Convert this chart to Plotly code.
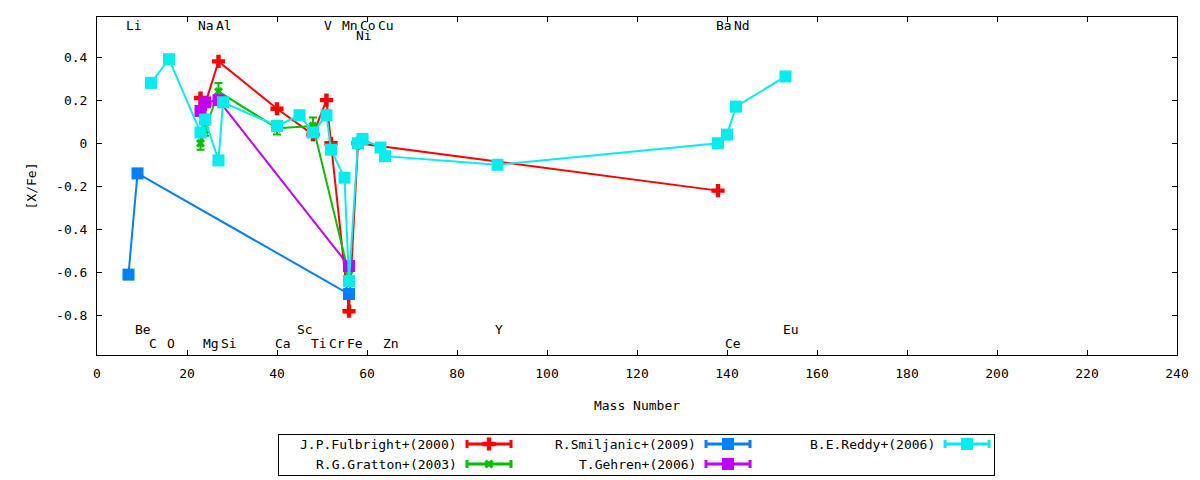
import plotly.graph_objects as go

# mass numbers of the labelled elements, by label row
top_el = ["Li", "Na", "Al", "V", "Mn", "Co", "Cu", "Ba", "Nd"]
top_mass = [7, 23, 27, 51, 55, 59, 63, 138, 142]
top2_el = ["Ni"]
top2_mass = [58]
bot1_el = ["Be", "Sc", "Y", "Eu"]
bot1_mass = [9, 45, 89, 153]
bot2_el = ["C", "O", "Mg", "Si", "Ca", "Ti", "Cr", "Fe", "Zn", "Ce"]
bot2_mass = [12, 16, 24, 28, 40, 48, 52, 56, 64, 140]

# [X/Fe] per study
fulbright_a = [23, 24, 27, 40, 48, 51, 52, 56, 58, 138]
fulbright_x = [0.21, 0.18, 0.38, 0.16, 0.04, 0.20, 0.00, -0.78, 0.00, -0.22]

gratton_a = [23, 24, 27, 40, 48, 56]
gratton_x = [0.00, 0.06, 0.24, 0.07, 0.08, -0.61]
gratton_err = [0.03, 0.025, 0.04, 0.03, 0.04, 0.02]

smiljanic_a = [7, 9, 56]
smiljanic_x = [-0.61, -0.14, -0.70]

gehren_a = [23, 24, 27, 56]
gehren_x = [0.15, 0.19, 0.20, -0.57]

reddy_a = [12, 16, 23, 24, 27, 28, 40, 45, 48, 51, 52, 55, 56, 58, 59, 63, 64,
           89, 138, 140, 142, 153]
reddy_x = [0.28, 0.39, 0.05, 0.11, -0.08, 0.19, 0.08, 0.13, 0.05, 0.13, -0.03,
           -0.16, -0.64, 0.00, 0.02, -0.02, -0.06, -0.10, 0.00, 0.04, 0.17, 0.31]

y_ticks = [0.4, 0.2, 0, -0.2, -0.4, -0.6, -0.8]
y_ticktext = ["0.4", "0.2", "0", "-0.2", "-0.4", "-0.6", "-0.8"]

FONT = "DejaVu Sans Mono"

series = [
    # name, x, y, err, color, symbol, size, legend col, legend row
    ("J.P.Fulbright+(2000)", fulbright_a, fulbright_x, None, "#ff0000", "cross", 11, 0, 0),
    ("R.G.Gratton+(2003)", gratton_a, gratton_x, gratton_err, "#00c000", "x", 8, 0, 1),
    ("R.Smiljanic+(2009)", smiljanic_a, smiljanic_x, None, "#0080ff", "square", 12, 1, 0),
    ("T.Gehren+(2006)", gehren_a, gehren_x, None, "#c000ff", "square", 12, 1, 1),
    ("B.E.Reddy+(2006)", reddy_a, reddy_x, None, "#00eeee", "square", 12, 2, 0),
]

fig = go.Figure()
for name, xs, ys, err, col, sym, sz, c, r in series:
    fig.add_trace(go.Scatter(
        x=xs, y=ys, name=name, mode="lines+markers", showlegend=False,
        line=dict(color=col, width=2),
        marker=dict(color=col, symbol=sym, size=sz, line=dict(width=0)),
        error_y=dict(type="data", array=err, color=col, thickness=2, width=4,
                     visible=err is not None),
    ))

# custom key box (gnuplot style: text then sample)
col_text_end = [180, 419, 658]
row_y = [31, 11]
for name, xs, ys, err, col, sym, sz, c, r in series:
    mid = col_text_end[c] + 30
    fig.add_trace(go.Scatter(
        x=[mid], y=[row_y[r]], xaxis="x2", yaxis="y2", mode="markers",
        showlegend=False, hoverinfo="skip",
        marker=dict(color=col, symbol=sym, size=sz, line=dict(width=0)),
        error_x=dict(type="constant", value=22, color=col, thickness=3, width=4),
    ))
    fig.add_annotation(x=col_text_end[c], y=row_y[r], xref="x2", yref="y2",
                       text=name, showarrow=False, xanchor="right",
                       font=dict(family=FONT, size=13, color="black"))

for els, masses, yy in [(top_el, top_mass, 0.548), (top2_el, top2_mass, 0.50),
                        (bot1_el, bot1_mass, -0.865), (bot2_el, bot2_mass, -0.93)]:
    for el, m in zip(els, masses):
        fig.add_annotation(x=m, y=yy, text=el, showarrow=False, xanchor="left",
                           xshift=-3.5, borderpad=0,
                           font=dict(family=FONT, size=13, color="black"))

axis_common = dict(showline=True, linecolor="black", linewidth=1, mirror="ticks",
                   ticks="inside", ticklen=5, tickcolor="black", showgrid=False,
                   zeroline=False, ticklabelstandoff=6,
                   tickfont=dict(family=FONT, size=13, color="black"))

fig.update_layout(
    width=1200, height=480,
    margin=dict(l=97, r=23, t=17, b=5),
    paper_bgcolor="white", plot_bgcolor="white",
    font=dict(family=FONT, size=13, color="black"),
    xaxis=dict(range=[0, 240], dtick=20, anchor="y",
               title=dict(text="Mass Number", standoff=21,
                          font=dict(family=FONT, size=13)),
               **axis_common),
    yaxis=dict(range=[-0.983, 0.586], domain=[0.262, 1], tickvals=y_ticks,
               ticktext=y_ticktext, anchor="x",
               title=dict(text="[X/Fe]", standoff=16, font=dict(family=FONT, size=13)),
               **axis_common),
    xaxis2=dict(domain=[0.1685, 0.8306], range=[0, 715], anchor="y2", showline=True,
                mirror=True, linecolor="black", linewidth=1, showgrid=False,
                zeroline=False, showticklabels=False, ticks=""),
    yaxis2=dict(domain=[0, 0.0873], range=[0, 40], anchor="x2", showline=True,
                mirror=True, linecolor="black", linewidth=1, showgrid=False,
                zeroline=False, showticklabels=False, ticks=""),
)

fig.write_html("out.html", config={"displayModeBar": False},
               post_script="document.body.style.margin='0';")
